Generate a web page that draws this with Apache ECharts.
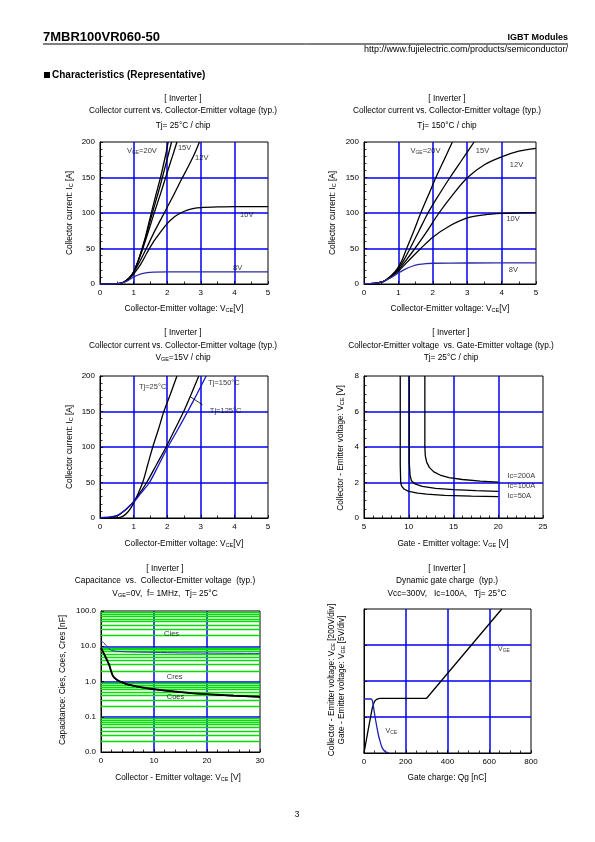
<!DOCTYPE html>
<html><head><meta charset="utf-8">
<script src="https://cdn.jsdelivr.net/npm/echarts@6/dist/echarts.min.js"></script>
<style>html,body{margin:0;padding:0;background:#fff}#c{width:595px;height:842px}</style>
</head><body><div id="c"></div>
<script>
// ---------- DATA ----------
// Chart 1: Ic vs Vce, Tj=25C  [Vce (V), Ic (A)]
const t25_vge20  = [[0,0],[0.5,0.3],[0.6,1],[0.7,2.5],[0.8,5.5],[0.9,10],[1.0,17],[1.1,28],[1.2,42],[1.35,66],[1.5,95],[1.65,123],[1.8,150],[1.95,181],[2.03,200]];
const t25_vge20b = [[0,0],[0.5,0.3],[0.6,1],[0.7,2.5],[0.8,5.5],[0.9,10],[1.0,17],[1.1,28],[1.2,41],[1.35,64],[1.5,90],[1.65,115],[1.8,140],[1.95,167],[2.13,200]];
const t25_vge15  = [[0,0],[0.5,0.3],[0.6,1],[0.7,2.5],[0.8,5.5],[0.9,10],[1.0,17],[1.2,40],[1.4,68],[1.6,98],[1.8,127],[2.0,157],[2.15,179],[2.29,200]];
const t25_vge12  = [[0,0],[0.5,0.3],[0.6,1],[0.7,2.5],[0.8,5.5],[0.9,10],[1.0,16],[1.2,33],[1.4,52],[1.6,72],[1.8,90],[2.0,108],[2.2,126],[2.4,145],[2.6,163],[2.8,182],[2.96,200]];
const t25_vge10  = [[0,0],[0.5,0.3],[0.6,1],[0.7,2.5],[0.8,5],[0.9,9],[1.0,14],[1.2,27],[1.4,44],[1.6,60],[1.8,73],[2.0,85],[2.2,94],[2.4,100],[2.6,104],[2.8,106.5],[3.0,107.5],[3.5,108.5],[4,109],[5,109]];
const t25_vge8   = [[0,0],[0.5,0.3],[0.6,1],[0.7,2],[0.8,4],[0.9,7],[1.0,10],[1.2,14],[1.4,16],[1.6,16.8],[2.0,17],[5,17]];
// Chart 2: Ic vs Vce, Tj=150C
const t150_vge20 = [[0,0.5],[0.3,1],[0.5,2.5],[0.6,4.5],[0.7,8],[0.8,12],[0.9,17],[1.0,24],[1.1,33],[1.24,50],[1.45,75],[1.65,100],[1.87,125],[2.09,150],[2.33,175],[2.57,200]];
const t150_vge15 = [[0,0.5],[0.3,1],[0.5,2.5],[0.6,4.5],[0.7,8],[0.8,12],[0.9,17],[1.0,22],[1.15,33],[1.34,50],[1.6,75],[1.86,100],[2.17,125],[2.5,150],[2.85,175],[3.2,200]];
const t150_vge12 = [[0,0.5],[0.3,1],[0.5,2.5],[0.6,4.5],[0.7,7.5],[0.8,11],[0.9,15.5],[1.0,20],[1.2,32],[1.48,50],[1.8,72],[2.18,100],[2.6,127],[3.01,150],[3.5,168],[4,179],[4.5,187],[5,191]];
const t150_vge10 = [[0,0.5],[0.3,1],[0.5,2.5],[0.6,4.5],[0.7,7],[0.8,10],[0.9,14],[1.0,18],[1.2,28],[1.4,38],[1.65,50],[2.0,66],[2.5,82],[3.0,93],[3.5,97.5],[4.0,99.5],[4.5,100.3],[5,100.5]];
const t150_vge8  = [[0,0.5],[0.3,1],[0.5,2.5],[0.6,4.5],[0.7,7],[0.8,9.5],[0.9,12.5],[1.0,15.5],[1.2,21],[1.4,25],[1.6,27.5],[1.8,28.7],[2.0,29.2],[3,29.6],[5,29.8]];
// Chart 3: Ic vs Vce, Vge=15V
const vge15_tj25  = [[0,0],[0.5,0.3],[0.6,1],[0.7,3],[0.8,7],[0.9,13],[1.0,21],[1.1,31],[1.27,50],[1.42,75],[1.57,100],[1.74,125],[1.9,150],[2.1,175],[2.29,200]];
const vge15_tj150 = [[0,0.3],[0.3,1],[0.5,3],[0.6,5.5],[0.7,9],[0.8,13],[0.9,18],[1.0,23],[1.2,36],[1.39,50],[1.68,75],[1.97,100],[2.23,125],[2.49,150],[2.72,175],[2.94,200]];
const vge15_tj125 = [[0,0.5],[0.3,1.5],[0.5,3.5],[0.6,6],[0.7,9.5],[0.8,13.5],[0.9,18],[1.0,22],[1.2,34],[1.47,50],[1.75,75],[2.02,100],[2.32,125],[2.61,150],[2.89,175],[3.16,200]];
const leader3 = [[2.68,171],[3.05,159.5]];
// Chart 4: Vce vs Vge  [Vge (V), Vce (V)]
const ic50  = [[9.05,8],[9.05,3],[9.1,2.0],[9.2,1.8],[9.5,1.62],[10,1.5],[11,1.4],[12,1.34],[14,1.28],[17,1.23],[20,1.2]];
const ic100 = [[10.05,8],[10.05,3.2],[10.15,2.4],[10.3,2.1],[10.7,1.92],[11.5,1.78],[13,1.67],[15,1.6],[17.5,1.54],[20,1.5]];
const ic200 = [[11.8,8],[11.8,4],[11.85,3.5],[12,3.15],[12.3,2.85],[12.8,2.6],[13.5,2.42],[14.5,2.28],[16,2.17],[18,2.08],[20,2.02]];
// Chart 5: Capacitance [Vce (V), C (nF)]
const cies = [[0,14.2],[0.5,12.5],[1,10.5],[1.5,8.6],[2,7.6],[3,7.2],[5,6.95],[10,6.7],[15,6.5],[20,6.4],[25,6.3],[30,6.25]];
const coes = [[0,9],[0.75,5.4],[1.5,3.1],[1.9,2.0],[2.3,1.4],[3,1.13],[4,0.95],[5.2,0.81],[7.7,0.68],[10,0.61],[14.6,0.51],[20,0.44],[25,0.4],[30,0.37]];
const cres = [[0,8.7],[0.75,5.2],[1.5,3.0],[1.9,1.95],[2.3,1.37],[3,1.1],[4,0.93],[5.2,0.8],[7.7,0.67],[10,0.6],[14.6,0.5],[20,0.43],[25,0.39],[30,0.36]];
const capMinorGrid = [0.02,0.03,0.04,0.05,0.06,0.07,0.08,0.09,0.2,0.3,0.4,0.5,0.6,0.7,0.8,0.9,2,3,4,5,6,7,8,9,20,30,40,50,60,70,80,90];
// Chart 6: Gate charge [Qg (nC), value]
const qg_vge = [[0,0],[20,3.2],[40,6.3],[50,7.15],[60,7.45],[75,7.6],[300,7.6],[660,20]];
const qg_vce = [[0,300],[34,300],[40,290],[45,259],[53,200],[61,148],[69,100],[77,65],[85,35],[93,18],[103,7],[112,3],[120,0]];

// curve annotations [x, y, text] in data units
const lab1 = [[0.8,187,'V{s|GE}=20V'],[2.32,191.5,'15V'],[2.83,178,'12V'],[4.17,97,'10V'],[3.96,23,'8V']];
const lab2 = [[1.35,187,'V{s|GE}=20V'],[3.25,187,'15V'],[4.24,167,'12V'],[4.14,91.5,'10V'],[4.21,20,'8V']];
const lab3 = [[1.16,185,'Tj=25°C'],[3.22,190,'Tj=150°C'],[3.27,150.5,'Tj=125°C']];
const lab4 = [[21.03,2.39,'Ic=200A'],[21.03,1.81,'Ic=100A'],[21.03,1.27,'Ic=50A']];
const lab5 = [[11.9,22.9,'Cies'],[12.4,1.38,'Cres'],[12.4,0.37,'Coes']];
const lab6 = [[642,14.4,'V{s|GE}'],[103,3.0,'V{s|CE}']];

// ---------- CHART ----------
const FONT = "'Liberation Sans', Arial, Helvetica, sans-serif";
const BLUE = '#0000f0';
const NAVY = '#2a2aa8';
const GW = 1.5;
const chart = echarts.init(document.getElementById('c'), null, {renderer:'canvas', width:595, height:842});

function grid(l,t,w,h){return {left:l,top:t,width:w,height:h,show:true,borderColor:'#000',borderWidth:1,backgroundColor:'transparent'};}
function ax(gi,min,max,interval,minor,extra){
  return Object.assign({
    type:'value',gridIndex:gi,min:min,max:max,interval:interval,
    axisLine:{show:true,onZero:false,lineStyle:{color:'#000',width:1}},
    axisTick:{show:true,inside:true,length:3,lineStyle:{color:'#000',width:0.8}},
    minorTick:{show:minor>0,splitNumber:minor||5,length:2.5,lineStyle:{color:'#000',width:0.8}},
    splitLine:{show:true,showMinLine:false,showMaxLine:false,lineStyle:{color:BLUE,width:GW}},
    axisLabel:{color:'#000',fontSize:8,fontFamily:FONT,margin:5}
  },extra||{});
}
function ln(xi,yi,data,color,width,smooth){
  return {type:'line',xAxisIndex:xi,yAxisIndex:yi,data:data,symbol:'none',smooth:smooth||false,
    lineStyle:{color:color,width:width},itemStyle:{color:color},silent:true,clip:true,z:6};
}
function lbl(xi,yi,items,fs){
  return {type:'scatter',xAxisIndex:xi,yAxisIndex:yi,symbolSize:0,silent:true,z:7,
    itemStyle:{color:'#000'},
    data:items.map(d=>({value:[d[0],d[1]],name:d[2]})),
    label:{show:true,position:'inside',align:'left',verticalAlign:'middle',formatter:p=>p.name,
      color:'#000',fontSize:fs||7.5,fontFamily:FONT,rich:{s:{fontSize:5,verticalAlign:'bottom',fontFamily:FONT,color:'#000'}}}};
}
function T(text,x,y,o){
  o=o||{};
  return {type:'text',x:x,y:y,rotation:o.rot||0,silent:true,
    style:{text:text,x:0,y:0,fill:'#000',font:(o.w||'normal')+' '+(o.fs||8.3)+'px '+FONT,
      fontSize:o.fs||8.3,fontWeight:o.w||'normal',fontFamily:FONT,
      align:o.a||'center',verticalAlign:'middle',
      rich:{s:{fontSize:5.5,fontFamily:FONT,verticalAlign:'bottom',fill:'#000'}}}};
}

const capFmt = v => Number(v).toFixed(1);

const option = {
  animation:false,
  backgroundColor:'#fff',
  grid:[grid(100,142,168,142),grid(364,142,172,142),grid(100,376,168,142),grid(364,376,179,142),grid(101,611,159,141),grid(364,609,167,144)],
  xAxis:[
    ax(0,0,5,1,2), ax(1,0,5,1,2), ax(2,0,5,1,2), ax(3,5,25,5,5),
    ax(4,0,30,10,5), ax(5,0,800,200,4)
  ],
  yAxis:[
    ax(0,0,200,50,5), ax(1,0,200,50,5), ax(2,0,200,50,5), ax(3,0,8,2,4),
    {type:'log',gridIndex:4,min:0.01,max:100,logBase:10,
      axisLine:{show:true,lineStyle:{color:'#000',width:1}},
      axisTick:{show:true,inside:true,length:3,lineStyle:{color:'#000'}},
      splitLine:{show:true,showMinLine:false,showMaxLine:false,lineStyle:{color:BLUE,width:GW}},
      axisLabel:{color:'#000',fontSize:8,fontFamily:FONT,margin:5,formatter:capFmt}},
    ax(5,0,800,200,0,{axisLabel:{show:false}}),
    {type:'value',gridIndex:5,min:0,max:20,show:false,splitLine:{show:false}}
  ],
  series:[
    ln(0,0,t25_vge20,'#000',1.3,0.3), ln(0,0,t25_vge20b,'#000',1.3,0.3), ln(0,0,t25_vge15,'#000',1.3,0.3), ln(0,0,t25_vge12,'#000',1.3,0.3),
    ln(0,0,t25_vge10,'#000',1.3,0.3), ln(0,0,t25_vge8,NAVY,1.3,0.3), lbl(0,0,lab1),
    ln(1,1,t150_vge20,'#000',1.3,0.3), ln(1,1,t150_vge15,'#000',1.3,0.3), ln(1,1,t150_vge12,'#000',1.3,0.3),
    ln(1,1,t150_vge10,'#000',1.3,0.3), ln(1,1,t150_vge8,NAVY,1.3,0.3), lbl(1,1,lab2),
    ln(2,2,vge15_tj25,'#000',1.3,0.3), ln(2,2,vge15_tj150,'#000',1.3,0.3), ln(2,2,vge15_tj125,'#1515c8',1.3,0.3),
    ln(2,2,leader3,'#000',0.8,false), lbl(2,2,lab3),
    ln(3,3,ic50,'#000',1.3,false), ln(3,3,ic100,'#000',1.3,false), ln(3,3,ic200,'#000',1.3,false), lbl(3,3,lab4),
    {type:'line',xAxisIndex:4,yAxisIndex:4,data:[],symbol:'none',silent:true,z:1,
      markLine:{silent:true,z:1,symbol:['none','none'],label:{show:false},animation:false,
        lineStyle:{color:'#00e000',width:1.3,type:'solid'},data:capMinorGrid.map(v=>({yAxis:v}))}},
    ln(4,4,cies,'#3030b8',1,0.3), ln(4,4,coes,'#000',1.8,0.3), ln(4,4,cres,'#000',1.2,0.3), lbl(4,4,lab5),
    ln(5,6,qg_vge,'#000',1.3,false), ln(5,5,qg_vce,'#2020b8',1.3,0.3), lbl(5,6,lab6,7)
  ],
  graphic:[
    T('7MBR100VR060-50',43,37,{a:'left',w:'bold',fs:13}),
    {type:'line',shape:{x1:43,y1:44,x2:568,y2:44},style:{stroke:'#000',lineWidth:1},silent:true},
    T('IGBT Modules',568,38,{a:'right',w:'bold',fs:9}),
    T('http://www.fujielectric.com/products/semiconductor/',568,50,{a:'right',fs:9}),
    {type:'rect',shape:{x:44,y:72,width:6,height:6},style:{fill:'#000'},silent:true},
    T('Characteristics (Representative)',52,75,{a:'left',w:'bold',fs:10}),
    // chart 1
    T('[ Inverter ]',183,99), T('Collector current vs. Collector-Emitter voltage (typ.)',183,111),
    T('Tj= 25°C / chip',183,126),
    T('Collector current: I{s|C} [A]',70,213,{rot:Math.PI/2}),
    T('Collector-Emitter voltage: V{s|CE}[V]',184,309),
    // chart 2
    T('[ Inverter ]',447,99), T('Collector current vs. Collector-Emitter voltage (typ.)',447,111),
    T('Tj= 150°C / chip',447,126),
    T('Collector current: I{s|C} [A]',333,213,{rot:Math.PI/2}),
    T('Collector-Emitter voltage: V{s|CE}[V]',450,309),
    // chart 3
    T('[ Inverter ]',183,333), T('Collector current vs. Collector-Emitter voltage (typ.)',183,346),
    T('V{s|GE}=15V / chip',183,358),
    T('Collector current: I{s|C} [A]',70,447,{rot:Math.PI/2}),
    T('Collector-Emitter voltage: V{s|CE}[V]',184,544),
    // chart 4
    T('[ Inverter ]',451,333), T('Collector-Emitter voltage  vs. Gate-Emitter voltage (typ.)',451,346),
    T('Tj= 25°C / chip',451,358),
    T('Collector - Emitter voltage: V{s|CE} [V]',341,448,{rot:Math.PI/2}),
    T('Gate - Emitter voltage: V{s|GE} [V]',453,544),
    // chart 5
    T('[ Inverter ]',165,569), T('Capacitance  vs.  Collector-Emitter voltage  (typ.)',165,581),
    T('V{s|GE}=0V,  f= 1MHz,  Tj= 25°C',165,594),
    T('Capacitance: Cies, Coes, Cres [nF]',63,680,{rot:Math.PI/2}),
    T('Collector - Emitter voltage: V{s|CE} [V]',178,778),
    // chart 6
    T('[ Inverter ]',447,569), T('Dynamic gate charge  (typ.)',447,581),
    T('Vcc=300V,   Ic=100A,   Tj= 25°C',447,594),
    T('Collector - Emitter voltage: V{s|CE} [200V/div]',332,680,{rot:Math.PI/2}),
    T('Gate - Emitter voltage: V{s|GE} [5V/div]',342,680,{rot:Math.PI/2}),
    T('Gate charge: Qg [nC]',447,778),
    T('3',297,815)
  ]
};
chart.setOption(option);
</script></body></html>
